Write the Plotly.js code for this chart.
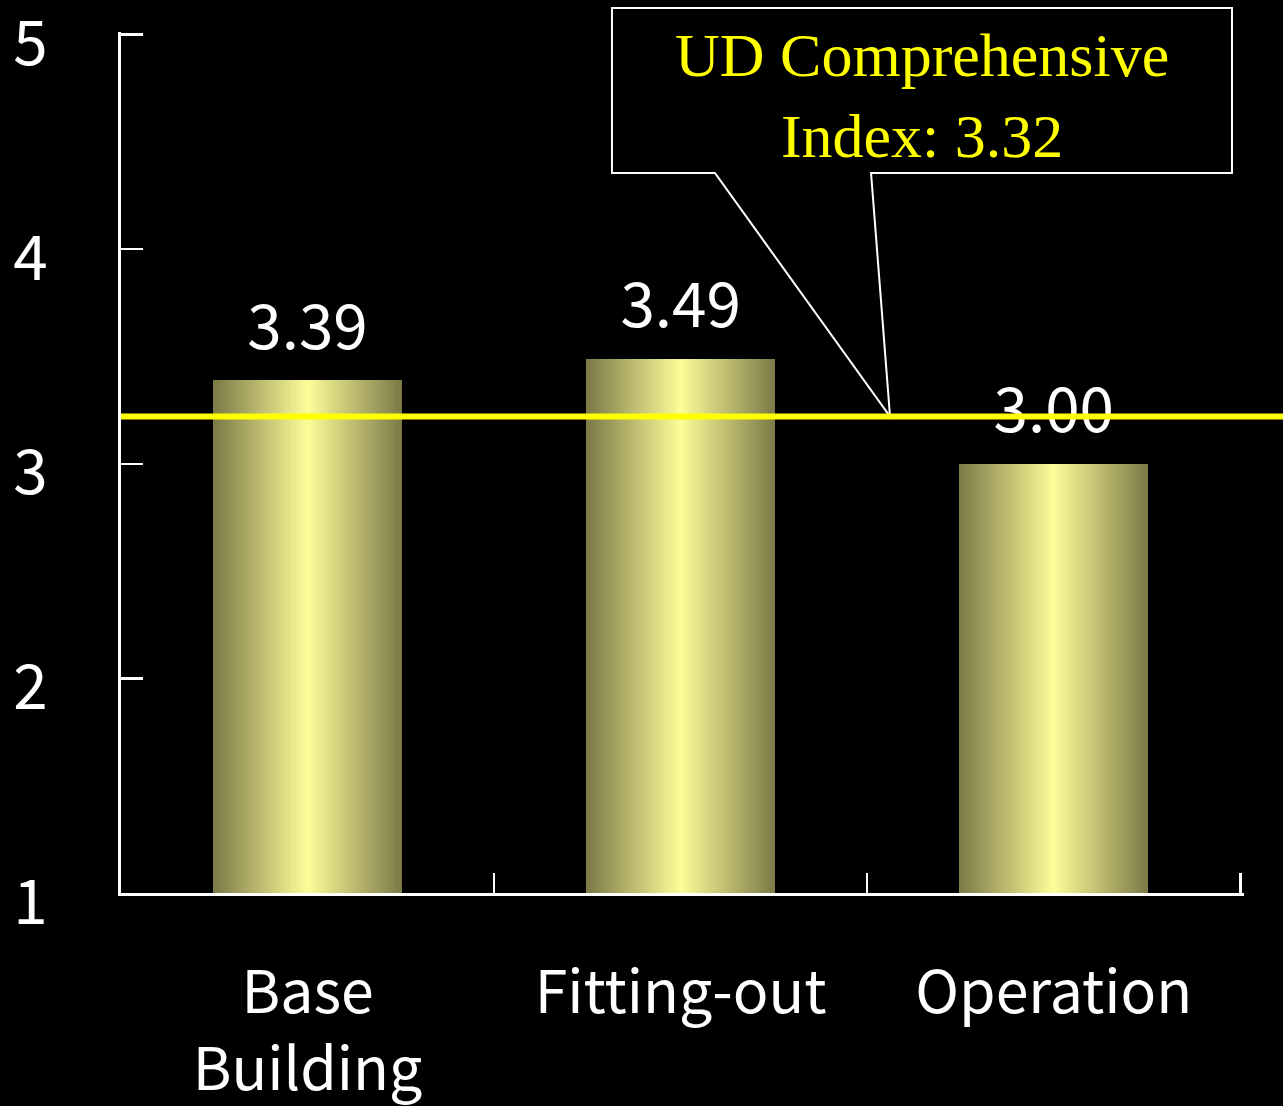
<!DOCTYPE html>
<html>
<head>
<meta charset="utf-8">
<script src="https://cdn.plot.ly/plotly-3.0.1.min.js"></script>
<style>html,body{margin:0;padding:0;background:#000;}#chart{width:1283px;height:1106px;}</style>
</head>
<body>
<div id="chart"></div>
<script>
// ---- data ----
const categories = ["Base<br>Building", "Fitting-out", "Operation"];
const scores = [3.39, 3.49, 3.00];
const scoreLabels = ["3.39", "3.49", "3.00"];
const yTickVals = [1, 2, 3, 4, 5];
const indexLevel = 3.22;          // where the yellow reference line is drawn
const indexText = "UD Comprehensive<br>Index: 3.32";

// ---- style ----
const sansFont = "Noto Sans CJK JP, Noto Sans, sans-serif";
const serifFont = "Liberation Serif, DejaVu Serif, serif";
const yRange = [1, 5.012];
const xRange = [-0.5, 2.51];
const barWidth = 0.507;
const steps = 40;
const edgeRGB = [123, 121, 70];
const centerRGB = [253, 253, 153];

const traces = [];
for (let i = 0; i < steps; i++) {
  const t = 1 - i / steps;                 // relative half-width of this band
  const tc = Math.max(0, t - 0.5 / steps);
  const c = edgeRGB.map((e, k) => Math.round(centerRGB[k] + (e - centerRGB[k]) * tc));
  traces.push({
    type: "bar", x: categories, y: scores, width: barWidth * t,
    marker: { color: "rgb(" + c.join(",") + ")", line: { width: 0 } },
    hoverinfo: "skip", showlegend: false
  });
}
traces.push({
  type: "scatter", mode: "markers+text", x: categories, y: scores,
  text: scoreLabels, textposition: "top center",
  marker: { size: 24, opacity: 0 },
  textfont: { family: sansFont, size: 62, color: "#ffffff" },
  hoverinfo: "skip", showlegend: false, cliponaxis: false
});

const tipY = (indexLevel - yRange[0]) / (yRange[1] - yRange[0]);
// convert reference pixel positions of the callout into paper fractions
const plotL = 121, plotT = 32, plotW = 1283 - 121 - 39, plotH = 1106 - 32 - 213;
const px = v => ((v - plotL) / plotW).toFixed(4);
const py = v => ((plotT + plotH - v) / plotH).toFixed(4);

const layout = {
  width: 1283, height: 1106,
  paper_bgcolor: "#000000", plot_bgcolor: "#000000",
  margin: { l: 121, r: 39, t: 32, b: 213 },
  barmode: "overlay", bargap: 0,
  showlegend: false,
  xaxis: {
    type: "category", range: xRange,
    showline: true, linecolor: "#ffffff", linewidth: 3,
    ticks: "inside", tickson: "boundaries", ticklen: 20, tickwidth: 2.5, tickcolor: "#ffffff",
    showgrid: false, zeroline: false,
    tickfont: { family: sansFont, size: 59, color: "#ffffff" },
    ticklabelstandoff: 46, ticklabeloverflow: "allow"
  },
  yaxis: {
    range: yRange, tickmode: "array", tickvals: yTickVals,
    showline: true, linecolor: "#ffffff", linewidth: 3,
    ticks: "inside", ticklen: 22, tickwidth: 2.5, tickcolor: "#ffffff",
    showgrid: false, zeroline: false,
    tickfont: { family: sansFont, size: 62, color: "#ffffff" },
    ticklabelstandoff: 58, ticklabelshift: 9, ticklabeloverflow: "allow"
  },
  shapes: [
    {
      type: "path", xref: "paper", yref: "paper", layer: "above",
      path: "M " + px(715) + " " + py(173) + " L " + px(612) + " " + py(173) +
            " L " + px(612) + " " + py(8) + " L " + px(1232) + " " + py(8) +
            " L " + px(1232) + " " + py(173) + " L " + px(871) + " " + py(173) +
            " L " + px(890) + " " + tipY.toFixed(4) + " Z",
      fillcolor: "#000000", line: { color: "#ffffff", width: 2 }
    },
    {
      type: "line", xref: "paper", yref: "y", layer: "above",
      x0: 0, x1: 1.1, y0: indexLevel, y1: indexLevel,
      line: { color: "#ffff00", width: 6 }
    }
  ],
  annotations: [
    {
      xref: "paper", yref: "paper", x: Number(px(922)), y: Number(py(95)), xanchor: "center", yanchor: "middle",
      text: indexText, showarrow: false, align: "center",
      font: { family: serifFont, size: 62, color: "#ffff00" }
    }
  ]
};

Plotly.newPlot("chart", traces, layout, { displayModeBar: false, staticPlot: true });
</script>
</body>
</html>
